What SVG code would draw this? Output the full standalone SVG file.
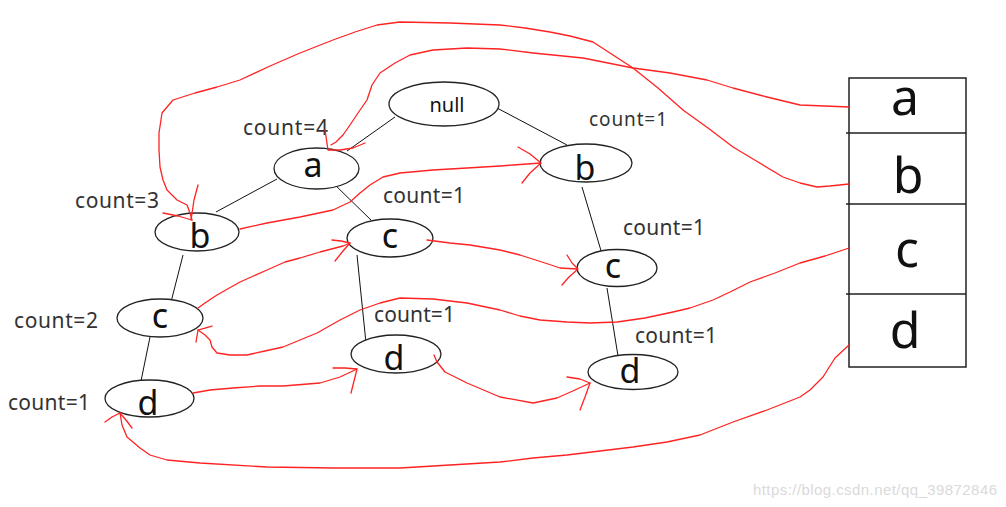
<svg xmlns="http://www.w3.org/2000/svg" width="1006" height="507" viewBox="0 0 1006 507">
<style>
.node ellipse{fill:#fff;stroke:#222;stroke-width:1.3}
.lt{font-family:"Noto Sans","Open Sans","DejaVu Sans",sans-serif;font-size:34px;fill:#111;text-anchor:middle}
.cnt{font-family:"Noto Sans","Open Sans","DejaVu Sans",sans-serif;font-size:21px;fill:#333}
.tl{font-family:"Noto Sans","Open Sans","DejaVu Sans",sans-serif;font-size:50px;fill:#111;text-anchor:middle}
.edge{stroke:#111;stroke-width:1;fill:none}
.red{stroke:#f22;stroke-width:1.3;fill:none;stroke-linejoin:round;stroke-linecap:round}
.tbl{stroke:#222;stroke-width:1.5;fill:none}
</style>
<rect width="1006" height="507" fill="#fff"/>
<g id="tree-edges">
<path class="edge" d="M395,117 L347,151"/>
<path class="edge" d="M277,179 L216,212"/>
<path class="edge" d="M333,183 L371,220"/>
<path class="edge" d="M497,108 L567,145"/>
<path class="edge" d="M582,187 L602,254"/>
<path class="edge" d="M607,288 L618,356"/>
<path class="edge" d="M183,255 L171,302"/>
<path class="edge" d="M150,337 L141,381"/>
<path class="edge" d="M357,255 L366,343"/>
</g>
<g id="node-null" class="node"><ellipse cx="444" cy="104" rx="55" ry="22"/><text x="447" y="112" style="font-family:'Noto Sans','Open Sans',sans-serif;font-size:20px;fill:#111;text-anchor:middle">null</text></g>
<g id="node-a" class="node"><ellipse cx="316.5" cy="168.5" rx="42.5" ry="20.5"/><text class="lt" x="313" y="177">a</text></g>
<g id="node-b1" class="node"><ellipse cx="197" cy="232" rx="42" ry="19"/><text class="lt" x="200" y="248">b</text></g>
<g id="node-c1" class="node"><ellipse cx="390" cy="238" rx="43" ry="19"/><text class="lt" x="390" y="248">c</text></g>
<g id="node-b2" class="node"><ellipse cx="586" cy="163" rx="46" ry="19"/><text class="lt" x="585" y="180">b</text></g>
<g id="node-c2" class="node"><ellipse cx="617" cy="268" rx="40" ry="18.5"/><text class="lt" x="613" y="278">c</text></g>
<g id="node-d3" class="node"><ellipse cx="633" cy="372" rx="45" ry="17.5"/><text class="lt" x="630" y="383">d</text></g>
<g id="node-c0" class="node"><ellipse cx="160" cy="318" rx="43" ry="19"/><text class="lt" x="160" y="328">c</text></g>
<g id="node-d0" class="node"><ellipse cx="149.5" cy="398.5" rx="44.5" ry="18.5"/><text class="lt" x="148" y="415">d</text></g>
<g id="node-d1" class="node"><ellipse cx="396" cy="354" rx="45" ry="19"/><text class="lt" x="394" y="370">d</text></g>
<g id="labels">
<text class="cnt" x="243" y="135" textLength="85">count=4</text>
<text class="cnt" x="75" y="208" textLength="84">count=3</text>
<text class="cnt" x="383" y="203" textLength="82">count=1</text>
<text class="cnt" x="589" y="126" textLength="78" style="font-size:19px">count=1</text>
<text class="cnt" x="623" y="235" textLength="82">count=1</text>
<text class="cnt" x="14" y="328" textLength="84">count=2</text>
<text class="cnt" x="8" y="410" textLength="82">count=1</text>
<text class="cnt" x="374" y="322" textLength="81">count=1</text>
<text class="cnt" x="635" y="343" textLength="82">count=1</text>
</g>
<g id="header-table">
<rect class="tbl" x="849" y="78" width="117" height="289"/>
<path class="tbl" d="M846,133 H966 M846,204 H966 M846,294 H966"/>
<text class="tl" x="905" y="115">a</text>
<text class="tl" x="908" y="193">b</text>
<text class="tl" x="907" y="267">c</text>
<text class="tl" x="905" y="348">d</text>
</g>
<g id="connectors">
<path class="red" d="M849,107 L800,105 L767,97 L733,88 L707,80 L670,73 L633,68 L583,58 L533,53 L500,49 L467,48 L433,50 L410,55 L395,63 L380,73 L372,85 L367,100 L358,113 L350,125 L343,135 L336,142 L331,145"/>
<path class="red" d="M325,130 L328,150 L340,150 L353,148 L365,143"/>
<path class="red" d="M849,184 L830,186 L817,187 L800,183 L783,177 L758,162 L733,147 L708,128 L683,110 L658,88 L633,68 L613,55 L593,42 L570,36 L550,32 L525,28 L500,25 L450,23 L400,22 L377,25 L355,32 L333,40 L300,53 L270,66 L240,80 L217,87 L195,93 L173,100 L162,113 L159,133 L159,150 L160,167 L163,180 L167,190 L177,200 L187,205 L190,213 L192,220"/>
<path class="red" d="M198,185 L194,200 L191,220 M163,213 L178,216 L192,220"/>
<path class="red" d="M240,229 L267,223 L300,217 L333,210 L350,202 L360,193 L370,185 L383,177 L400,173 L433,170 L467,168 L500,166 L513,165 L541,163"/>
<path class="red" d="M518,147 L530,154 L541,163 L530,173 L522,183"/>
<path class="red" d="M427,240 L450,243 L470,245 L500,250 L520,255 L545,263 L560,268 L577,269"/>
<path class="red" d="M567,255 L572,263 L578,269 L569,277 L562,285"/>
<path class="red" d="M198,308 L205,303 L217,295 L240,282 L267,270 L285,262 L300,258 L320,252 L343,246 L350,243"/>
<path class="red" d="M332,240 L341,241 L350,243 L343,251 L335,261"/>
<path class="red" d="M849,248 L825,256 L800,263 L775,273 L750,282 L730,292 L713,300 L690,308 L673,312 L645,318 L617,322 L590,323 L567,322 L540,320 L520,316 L500,310 L467,303 L433,299 L400,298 L380,303 L360,310 L340,320 L317,333 L300,340 L283,347 L265,351 L247,355 L230,355 L217,353 L212,347 L210,340 L205,335 L198,330"/>
<path class="red" d="M212,326 L205,328 L198,330 L197,336 L196,342"/>
<path class="red" d="M193,393 L210,390 L233,388 L260,386 L283,386 L320,383 L340,377 L357,369"/>
<path class="red" d="M333,368 L345,368 L357,369 L354,381 L351,393"/>
<path class="red" d="M434,355 L437,362 L445,372 L467,383 L500,397 L533,403 L557,398 L575,390 L590,383"/>
<path class="red" d="M567,377 L580,379 L590,383 L585,397 L580,410"/>
<path class="red" d="M849,345 L835,358 L823,377 L810,390 L800,397 L767,410 L733,422 L700,435 L667,442 L633,447 L600,451 L567,455 L533,458 L500,462 L450,465 L400,468 L333,468 L267,467 L200,463 L167,460 L150,455 L140,448 L127,437 L122,425 L120,413"/>
<path class="red" d="M105,422 L112,417 L120,413 L126,420 L132,428"/>
</g>
<text x="753" y="495" textLength="244" style="font-family:'Liberation Sans',Arial,sans-serif;font-size:15px;fill:#dadada">https://blog.csdn.net/qq_39872846</text>
</svg>
